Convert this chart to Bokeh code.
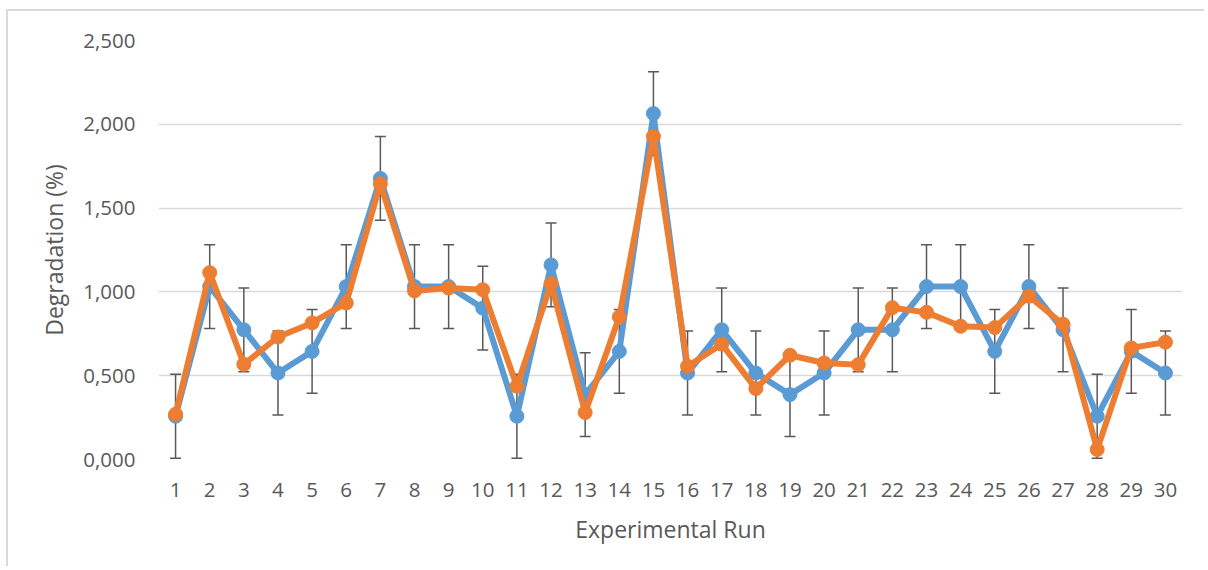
from bokeh.plotting import figure
from bokeh.models import (ColumnDataSource, Whisker, TeeHead, CustomJSTickFormatter,
                          FactorRange, Range1d, FixedTicker)
from bokeh.embed import file_html
from bokeh.resources import INLINE

runs = [str(i) for i in range(1, 31)]
series_a = [0.258, 1.032, 0.774, 0.516, 0.645, 1.032, 1.677, 1.032, 1.032, 0.903,
            0.258, 1.161, 0.387, 0.645, 2.064, 0.516, 0.774, 0.516, 0.387, 0.516,
            0.774, 0.774, 1.032, 1.032, 0.645, 1.032, 0.774, 0.258, 0.645, 0.516]
series_b = [0.270, 1.115, 0.568, 0.731, 0.815, 0.934, 1.645, 1.006, 1.023, 1.013,
            0.437, 1.049, 0.280, 0.851, 1.928, 0.556, 0.688, 0.423, 0.622, 0.576,
            0.566, 0.906, 0.878, 0.795, 0.787, 0.974, 0.807, 0.060, 0.666, 0.700]
error_a = [0.25] * 30
y_ticks = [0.0, 0.5, 1.0, 1.5, 2.0, 2.5]

BLUE = "#5B9BD5"
ORANGE = "#ED7D31"
GREY = "#595959"
GRID = "#D9D9D9"
FONT = "Open Sans"

src = ColumnDataSource(dict(
    x=runs, a=series_a, b=series_b,
    lo=[v - e for v, e in zip(series_a, error_a)],
    hi=[v + e for v, e in zip(series_a, error_a)],
))

p = figure(width=1198, height=557, output_backend="svg", toolbar_location=None,
           x_range=FactorRange(*runs, range_padding=0), y_range=Range1d(0, 2.5),
           min_border_left=150, min_border_right=24, min_border_top=29,
           min_border_bottom=109)
p.styles = {"border-top": f"2px solid {GRID}", "border-left": f"2px solid {GRID}",
            "margin-left": "6px", "margin-top": "9px"}
p.outline_line_color = None
p.background_fill_color = "white"
p.border_fill_color = "white"

p.xgrid.grid_line_color = None
p.ygrid.grid_line_color = GRID
p.ygrid.grid_line_width = 1.5

for ax in (p.xaxis[0], p.yaxis[0]):
    ax.axis_line_color = None
    ax.major_tick_line_color = None
    ax.minor_tick_line_color = None
    ax.major_label_text_font = FONT
    ax.major_label_text_font_size = "20.5px"
    ax.major_label_text_color = GREY
    ax.axis_label_text_font = FONT
    ax.axis_label_text_font_size = "23px"
    ax.axis_label_text_font_style = "normal"
    ax.axis_label_text_color = GREY

p.yaxis.ticker = FixedTicker(ticks=y_ticks)
p.yaxis.formatter = CustomJSTickFormatter(code="return tick.toFixed(3).replace('.', ',');")
p.yaxis.major_label_standoff = 17
p.xaxis.major_label_standoff = 17

p.xaxis.axis_label = "Experimental Run"
p.xaxis.axis_label_standoff = 13
p.yaxis.axis_label = "Degradation (%)"
p.yaxis.axis_label_standoff = 10

wh = Whisker(base="x", upper="hi", lower="lo", source=src,
             line_color=GREY, line_width=1.5,
             upper_head=TeeHead(size=11, line_color=GREY, line_width=1.5),
             lower_head=TeeHead(size=11, line_color=GREY, line_width=1.5))
p.add_layout(wh)

p.line("x", "a", source=src, line_color=BLUE, line_width=6, line_join="round")
p.scatter("x", "a", source=src, size=14, fill_color=BLUE, line_color=BLUE)
p.line("x", "b", source=src, line_color=ORANGE, line_width=6, line_join="round")
p.scatter("x", "b", source=src, size=14, fill_color=ORANGE, line_color=ORANGE)

open("out.html", "w").write(file_html(p, INLINE))
